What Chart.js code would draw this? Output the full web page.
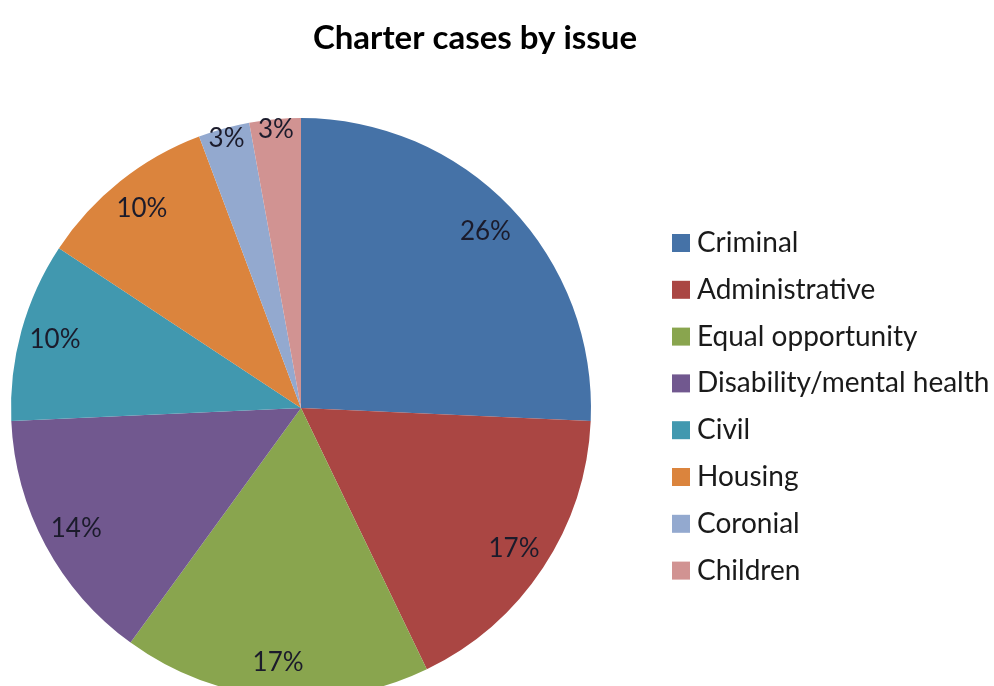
<!DOCTYPE html>
<html>
<head>
<meta charset="utf-8">
<script src="https://cdn.jsdelivr.net/npm/chart.js@4/dist/chart.umd.min.js"></script>
<style>
html,body{margin:0;padding:0;background:#fff;overflow:hidden;}
#wrap{position:relative;width:994px;height:700px;}
</style>
</head>
<body>
<div id="wrap"><canvas id="c" width="994" height="700"></canvas></div>
<script>
const categories = ["Criminal","Administrative","Equal opportunity","Disability/mental health","Civil","Housing","Coronial","Children"];
const caseCounts = [18,12,12,10,7,7,2,2];
const sliceColors = ["#4572A7","#AA4643","#89A54E","#71588F","#4198AF","#DB843D","#93A9CF","#D19392"];
const chartTitle = "Charter cases by issue";
const FONT = "Lato, 'Open Sans', sans-serif";

const labelsPlugin = {
  id: 'sliceLabels',
  afterDatasetsDraw(chart) {
    const ctx = chart.ctx;
    const meta = chart.getDatasetMeta(0);
    const data = chart.data.datasets[0].data;
    const total = data.reduce((a,b)=>a+b,0);
    ctx.save();
    ctx.font = "26px " + FONT;
    ctx.fillStyle = "#1b1b2b";
    ctx.textAlign = "center";
    ctx.textBaseline = "middle";
    meta.data.forEach((arc, i) => {
      const p = arc.getProps(['x','y','startAngle','endAngle','outerRadius'], true);
      const pct = data[i] / total * 100;
      const mid = (p.startAngle + p.endAngle) / 2;
      const f = pct < 5 ? 0.965 : 0.88;
      const r = p.outerRadius * f;
      ctx.fillText(Math.round(pct) + "%", p.x + Math.cos(mid) * r, p.y + Math.sin(mid) * r);
    });
    ctx.restore();
  },
  afterDraw(chart) {
    const ctx = chart.ctx;
    const labels = chart.data.labels;
    const colors = chart.data.datasets[0].backgroundColor;
    ctx.save();
    ctx.textBaseline = "middle";
    ctx.textAlign = "center";
    ctx.fillStyle = "#000";
    ctx.font = "bold 33px " + FONT;
    ctx.fillText(chartTitle, 475, 38);
    ctx.font = "28px " + FONT;
    ctx.textAlign = "left";
    labels.forEach((lab, i) => {
      const y = 243 + i * 46.8;
      ctx.fillStyle = colors[i];
      ctx.fillRect(672, y - 9, 18, 18);
      ctx.fillStyle = "#1a1a1a";
      ctx.fillText(lab, 697, y);
    });
    ctx.restore();
  }
};

new Chart(document.getElementById('c'), {
  type: 'pie',
  data: {
    labels: categories,
    datasets: [{
      data: caseCounts,
      backgroundColor: sliceColors,
      borderWidth: 0
    }]
  },
  options: {
    responsive: false,
    animation: false,
    layout: { padding: { left: 11, right: 403, top: 118, bottom: 2 } },
    plugins: {
      legend: { display: false },
      tooltip: { enabled: false },
      title: { display: false }
    }
  },
  plugins: [labelsPlugin]
});
</script>
</body>
</html>
